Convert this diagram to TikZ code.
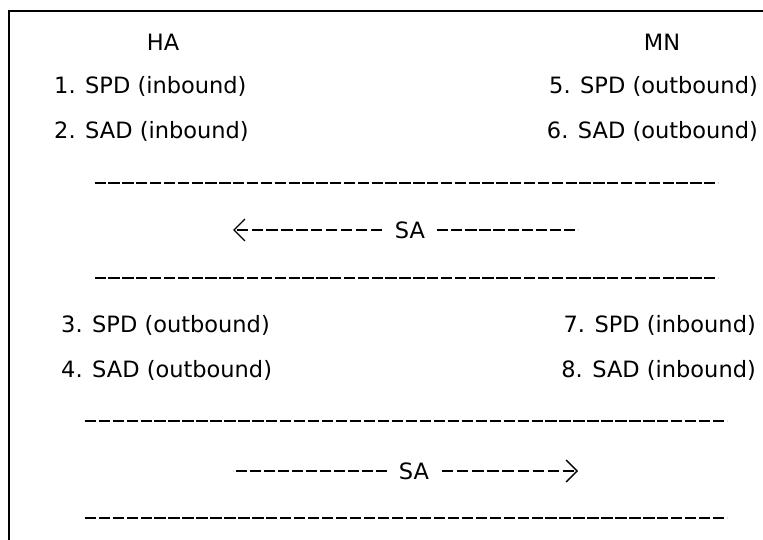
\documentclass[tikz,border=0pt]{standalone}
\usepackage{fontspec}
\setmainfont{DejaVu Sans}
\usetikzlibrary{arrows.meta,decorations}
\tikzset{
  lbl/.style={font=\fontsize{22.5}{27}\selectfont, inner sep=0pt},
  dashrule/.style={line width=2.2pt, dash pattern=on 11.3pt off 2.5pt, dash expand off},
  sachev/.style={-{Straight Barb[length=11pt,width=22pt,line width=1.3pt]}}
}

\begin{document}
\begin{tikzpicture}[x=1pt,y=-1pt]
  \useasboundingbox (0,0) rectangle (763,540);
  \draw[line width=2pt] (8.5,541) -- (8.5,11.5) -- (764,11.5);
  \node[lbl] (HA) at (163,42) {HA};
  \node[lbl] (MN) at (662,42) {MN};
  \node[lbl,anchor=west] (L1) at (54,86) {1. SPD (inbound)};
  \node[lbl,anchor=west] (L2) at (54,131) {2. SAD (inbound)};
  \node[lbl,anchor=east] (R5) at (758,86) {5. SPD (outbound)};
  \node[lbl,anchor=east] (R6) at (758,131) {6. SAD (outbound)};
  \node[lbl,anchor=west] (L3) at (61,325) {3. SPD (outbound)};
  \node[lbl,anchor=west] (L4) at (61,370) {4. SAD (outbound)};
  \node[lbl,anchor=east] (R7) at (756,325) {7. SPD (inbound)};
  \node[lbl,anchor=east] (R8) at (756,370) {8. SAD (inbound)};
  \coordinate (A1) at (92,183);  \coordinate (B1) at (718,183);
  \coordinate (A2) at (92,278);  \coordinate (B2) at (718,278);
  \coordinate (A3) at (82,421);  \coordinate (B3) at (727,421);
  \coordinate (A4) at (82,518);  \coordinate (B4) at (727,518);
  \draw[dashrule] (A1) -- (B1);
  \draw[dashrule] (A2) -- (B2);
  \draw[dashrule] (A3) -- (B3);
  \draw[dashrule] (A4) -- (B4);
  % SA from MN to HA
  \node[lbl,inner xsep=9pt] (SAup) at (410,230) {SA};
  \coordinate (SAupL) at (233,230); \coordinate (SAupR) at (578,230);
  \draw[dashrule,sachev] (SAup) -- (SAupL);
  \draw[dashrule] (SAup) -- (SAupR);
  % SA from HA to MN
  \node[lbl,inner xsep=9pt] (SAdn) at (414,471) {SA};
  \coordinate (SAdnL) at (233,471); \coordinate (SAdnR) at (578,471);
  \draw[dashrule] (SAdn) -- (SAdnL);
  \draw[dashrule,sachev] (SAdn) -- (SAdnR);
\end{tikzpicture}
\end{document}
